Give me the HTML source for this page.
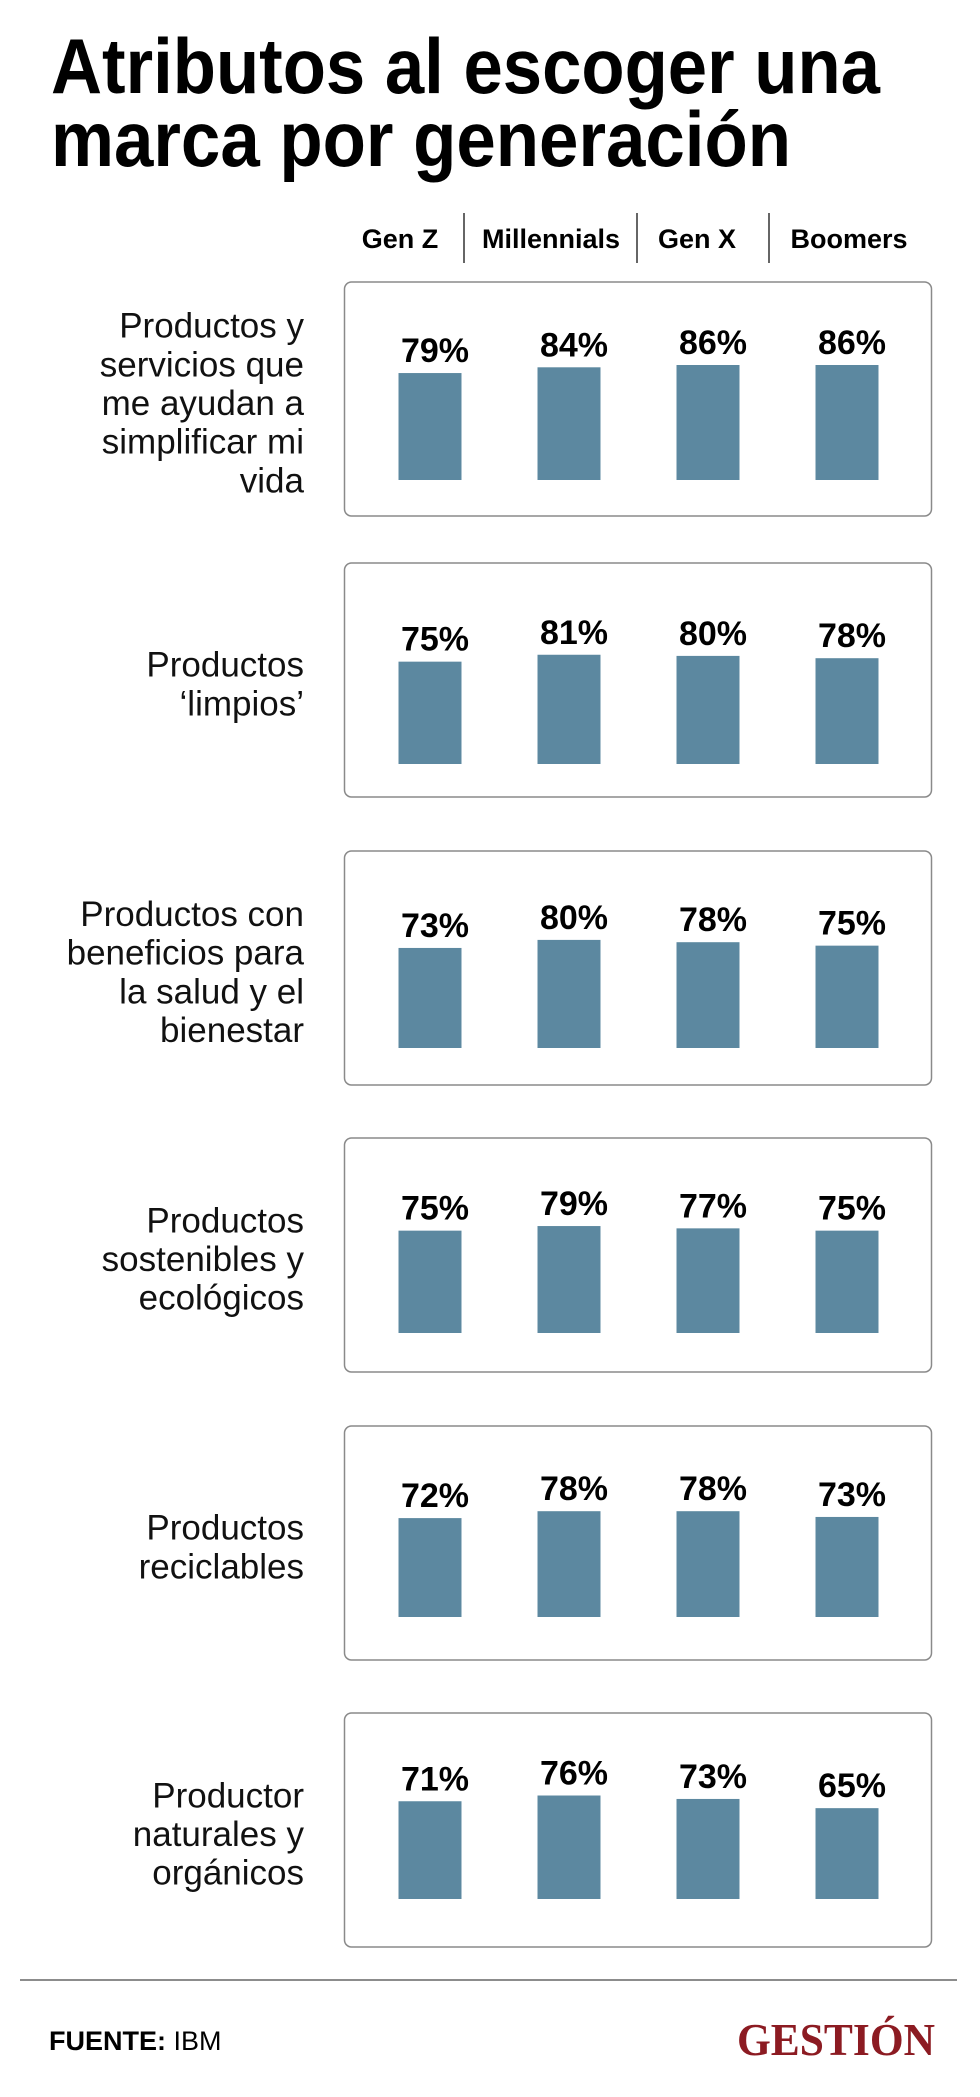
<!DOCTYPE html>
<html><head><meta charset="utf-8">
<style>
html,body{margin:0;padding:0;background:#fff;}
svg{display:block;}
text{font-family:"Liberation Sans Narrow","Liberation Sans",sans-serif;}
</style></head>
<body>
<svg id="chart" width="980" height="2097" viewBox="0 0 980 2097" xmlns="http://www.w3.org/2000/svg">
  <text x="51" y="93" font-size="78" font-weight="bold" textLength="829" lengthAdjust="spacingAndGlyphs" fill="#000">Atributos al escoger una</text>
  <text x="51" y="166" font-size="78" font-weight="bold" textLength="740" lengthAdjust="spacingAndGlyphs" fill="#000">marca por generación</text>
  <g id="headers"></g>
  <g id="panels"></g>
  <line x1="20" y1="1980" x2="957" y2="1980" stroke="#666" stroke-width="1.5"/>
  <text x="49" y="2050" font-size="27" fill="#000"><tspan font-weight="bold">FUENTE:</tspan> IBM</text>
  <text x="935" y="2055" font-size="46" font-weight="bold" text-anchor="end" fill="#8c1b22" textLength="198" lengthAdjust="spacingAndGlyphs" style="font-family:'Liberation Serif',serif">GESTIÓN</text>
</svg>
<script>
const generations = ["Gen Z", "Millennials", "Gen X", "Boomers"];
const categories = [
  ["Productos y", "servicios que", "me ayudan a", "simplificar mi", "vida"],
  ["Productos", "‘limpios’"],
  ["Productos con", "beneficios para", "la salud y el", "bienestar"],
  ["Productos", "sostenibles y", "ecológicos"],
  ["Productos", "reciclables"],
  ["Productor", "naturales y", "orgánicos"]
];
const genZValues = [79, 75, 73, 75, 72, 71];
const millennialValues = [84, 81, 80, 79, 78, 76];
const genXValues = [86, 80, 78, 77, 78, 73];
const boomerValues = [86, 78, 75, 75, 73, 65];
const valueLabels = [
  ["79%","84%","86%","86%"],["75%","81%","80%","78%"],["73%","80%","78%","75%"],
  ["75%","79%","77%","75%"],["72%","78%","78%","73%"],["71%","76%","73%","65%"]
];

const NS = "http://www.w3.org/2000/svg";
const series = [genZValues, millennialValues, genXValues, boomerValues];
const panelTops = [282, 563, 851, 1138, 1426, 1713];
const barBottoms = [198, 201, 197, 195, 191, 186];
function xCenter(j){ return 430 + j*139; }
function barH(v){ return (v + 14) * 1.15; }
const BOX_H = 234, BAR_W = 63;

function mk(tag, attrs, parent){ const e=document.createElementNS(NS,tag); for(const k in attrs) e.setAttribute(k,attrs[k]); parent.appendChild(e); return e; }

const hdr = document.getElementById('headers');
const hx = [400, 551, 697, 849];
generations.forEach((g,j)=>{
  const t = mk('text',{x:hx[j],y:248,'font-size':27,'font-weight':'bold','text-anchor':'middle',fill:'#000'},hdr);
  
  
  t.textContent = g;
});
[464, 637, 769].forEach(x=>{
  const l = mk('line',{x1:x,y1:213,x2:x,y2:263,stroke:'#333','stroke-width':1.5},hdr);
  
  
});

const panels = document.getElementById('panels');
categories.forEach((lines,i)=>{
  const top = panelTops[i];
  const g = mk('g',{},panels);
  
  
  const box = mk('rect',{x:344.5,y:top,width:587,height:BOX_H,rx:7,fill:'#fff',stroke:'#8a8a8a','stroke-width':1.5},g);
  
  
  const lh = 38.7;
  const cy = top + BOX_H/2 + 4;
  const first = cy - (lines.length-1)*lh/2 + 12;
  lines.forEach((ln,k)=>{
    const t = mk('text',{x:304,y:first+k*lh,'font-size':35,'text-anchor':'end',fill:'#111'},g);
    
    
    t.textContent = ln;
  });
  series.forEach((s,j)=>{
    const v = s[i];
    const h = barH(v);
    const yb = top + barBottoms[i];
    const r = mk('rect',{x:xCenter(j)-BAR_W/2,y:yb-h,width:BAR_W,height:h,fill:'#5c88a0'},g);
    
    
    const t = mk('text',{x:xCenter(j)+5,y:yb-h-11,'font-size':34,'font-weight':'bold','text-anchor':'middle',fill:'#000'},g);
    
    
    t.textContent = valueLabels[i][j];
  });
});
</script>
</body></html>
